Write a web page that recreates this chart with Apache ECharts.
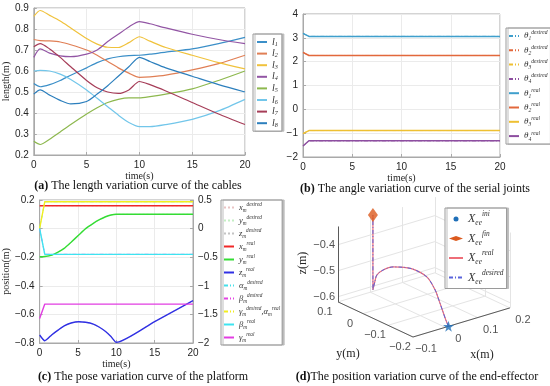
<!DOCTYPE html>
<html><head><meta charset="utf-8">
<script src="https://cdn.jsdelivr.net/npm/echarts@6/dist/echarts.min.js"></script>
<style>html,body{margin:0;padding:0;background:#fff}#c{width:550px;height:386px}</style>
</head><body><div id="c"></div>
<script>
// ---------- (a) cable lengths ----------
const timeA = [0, 0.6, 1.5, 2.5, 3.5, 5, 6, 7, 8, 9, 10, 11, 12.5, 15, 17.5, 20];
const cableL1 = [0.54, 0.525, 0.535, 0.555, 0.58, 0.615, 0.64, 0.658, 0.668, 0.673, 0.675, 0.68, 0.69, 0.705, 0.73, 0.76];
const cableL2 = [0.75, 0.745, 0.743, 0.738, 0.725, 0.70, 0.675, 0.645, 0.615, 0.59, 0.57, 0.572, 0.58, 0.605, 0.635, 0.675];
const cableL3 = [0.86, 0.888, 0.865, 0.838, 0.805, 0.755, 0.728, 0.713, 0.712, 0.735, 0.763, 0.742, 0.712, 0.675, 0.64, 0.61];
const cableL4 = [0.665, 0.705, 0.685, 0.672, 0.668, 0.68, 0.70, 0.74, 0.775, 0.81, 0.835, 0.825, 0.805, 0.775, 0.75, 0.73];
const cableL5 = [0.265, 0.25, 0.275, 0.31, 0.345, 0.395, 0.425, 0.45, 0.465, 0.472, 0.472, 0.478, 0.49, 0.515, 0.555, 0.60];
const cableL6 = [0.60, 0.603, 0.60, 0.585, 0.56, 0.51, 0.47, 0.43, 0.39, 0.355, 0.335, 0.335, 0.345, 0.37, 0.41, 0.465];
const cableL7 = [0.715, 0.73, 0.705, 0.665, 0.62, 0.555, 0.52, 0.50, 0.493, 0.51, 0.55, 0.535, 0.505, 0.45, 0.395, 0.345];
const cableL8 = [0.49, 0.51, 0.485, 0.46, 0.443, 0.455, 0.49, 0.53, 0.575, 0.62, 0.665, 0.645, 0.615, 0.575, 0.535, 0.50];
const cableNames = ['l1','l2','l3','l4','l5','l6','l7','l8'];
// ---------- (b) serial joint angles ----------
const timeB = [0, 0.6, 20];
const theta1 = [3.19, 3.06, 3.06];
const theta2 = [2.39, 2.26, 2.26];
const theta3 = [-1.02, -0.89, -0.89];
const theta4 = [-1.54, -1.32, -1.32];
// ---------- (c) platform pose ----------
const timeC = [0, 0.67, 1.6, 2.4, 3.2, 4.1, 5.1, 6, 7, 7.8, 8.6, 9.3, 10, 15, 20];
const xmPos = [0.16, 0.16, 0.16, 0.16, 0.16, 0.16, 0.16, 0.16, 0.16, 0.16, 0.16, 0.16, 0.16, 0.16, 0.16];
const ymPos = [-0.197, -0.195, -0.185, -0.165, -0.138, -0.095, -0.045, 0.0, 0.037, 0.062, 0.083, 0.095, 0.1, 0.1, 0.1];
const zmPos = [-0.744, -0.784, -0.742, -0.71, -0.68, -0.66, -0.651, -0.655, -0.668, -0.69, -0.72, -0.755, -0.795, -0.65, -0.504];
const timeCAng = [0, 0.67, 20];
const alphaAng = [0.005, 0.47, 0.47];
const betaAng = [0.0, -0.45, -0.45];
const gammaAng = [-1.57, -1.32, -1.32];
// ---------- (d) end-effector 3D path ----------
const trajX = [0.010, 0.008, 0.007, 0.004, 0.002, -0.003, -0.012, -0.020, -0.024, -0.030, -0.034, -0.035, -0.036, -0.036];
const trajY = [-0.200, -0.192, -0.182, -0.169, -0.157, -0.131, -0.086, -0.044, -0.022, 0.010, 0.030, 0.036, 0.043, 0.043];
const trajZ = [-0.620, -0.599, -0.572, -0.530, -0.497, -0.457, -0.443, -0.451, -0.459, -0.483, -0.510, -0.535, -0.572, -0.284];
const ticks3dX = [-0.1, 0, 0.1, 0.2];
const ticks3dY = [-0.2, -0.1, 0, 0.1];
const ticks3dZ = [-0.6, -0.5, -0.4];
const lim3dX = [-0.1, 0.2];
const lim3dY = [-0.2, 0.1];
const lim3dZ = [-0.62, -0.33];

// ---------- helpers ----------
const SERIF = '"Liberation Serif","DejaVu Serif",serif';
const SANS = '"Liberation Sans",Arial,sans-serif';
const minus = s => String(s).replace('-', '\u2212');
const fmt1 = v => minus(Math.round(v * 10) / 10);
const pairs = (t, v) => t.map((x, i) => [x, v[i]]);

// oblique projection of the 3D axes box (view like MATLAB default)
const ORI = [413, 337], EX = [323, -97], EY = [-250, -117], EZ = [0, -260];
function proj(x, y, z) {
  const a = x - lim3dX[0], b = y - lim3dY[0], c = z - lim3dZ[0];
  return [ORI[0] + a * EX[0] + b * EY[0] + c * EZ[0], ORI[1] + a * EX[1] + b * EY[1] + c * EZ[1]];
}

const AX = '#a9a9a9', GRIDC = '#ebebeb', TXT = '#262626';
function valAxis(extra) {
  return Object.assign({
    type: 'value',
    axisLine: { show: true, onZero: false, lineStyle: { color: AX } },
    axisTick: { show: true, inside: true, length: 3, lineStyle: { color: AX } },
    splitLine: { show: true, lineStyle: { color: GRIDC } },
    axisLabel: { color: TXT, fontFamily: SANS, fontSize: 10, margin: 5, formatter: fmt1 },
    nameTextStyle: { fontFamily: SERIF, fontSize: 10, color: TXT }
  }, extra);
}

const grids = [
  { left: 30, top: 8, width: 215, height: 147, show: true, borderColor: AX, borderWidth: 1 },
  { left: 303, top: 14, width: 197, height: 143, show: true, borderColor: AX, borderWidth: 1 },
  { left: 32, top: 200, width: 161, height: 143, show: true, borderColor: AX, borderWidth: 1 },
  { left: 270, top: 190, width: 280, height: 196, show: false }
];

const xAxes = [
  valAxis({ gridIndex: 0, min: 0, max: 20, interval: 5, name: 'time(s)', nameLocation: 'middle', nameGap: 14 }),
  valAxis({ gridIndex: 1, min: 0, max: 20, interval: 5, name: 'time(s)', nameLocation: 'middle', nameGap: 13 }),
  valAxis({ gridIndex: 2, min: 0, max: 20, interval: 5, name: 'time(s)', nameLocation: 'middle', nameGap: 14 }),
  { type: 'value', gridIndex: 3, min: 270, max: 550, show: false }
];
const yAxes = [
  valAxis({ gridIndex: 0, min: 0.2, max: 0.9, interval: 0.1, name: 'length(m)', nameLocation: 'middle', nameGap: 21, nameRotate: 90,
    axisLabel: { color: TXT, fontFamily: SANS, fontSize: 10, margin: 5, formatter: v => (Math.round(v * 10) / 10).toFixed(1) } }),
  valAxis({ gridIndex: 1, min: -2, max: 4, interval: 1, name: 'angle(rad)', nameLocation: 'middle', nameGap: 10, nameRotate: 90 }),
  valAxis({ gridIndex: 2, min: -0.8, max: 0.2, interval: 0.2, name: 'position(m)', nameLocation: 'middle', nameGap: 22, nameRotate: 90 }),
  valAxis({ gridIndex: 2, position: 'right', min: -2, max: 0.5, interval: 0.5, name: 'angle(rad)', nameLocation: 'middle', nameGap: 22, nameRotate: 90,
    splitLine: { show: false } }),
  { type: 'value', gridIndex: 3, min: 190, max: 386, inverse: true, show: false }
];

const series = [];
// (a)
const cableColors = ['#3b8fc8', '#e07f55', '#f0c23c', '#9255a4', '#8db84e', '#72c6ea', '#a63d58', '#2c7fbd'];
[cableL1, cableL2, cableL3, cableL4, cableL5, cableL6, cableL7, cableL8].forEach((arr, i) => {
  series.push({ name: cableNames[i], type: 'line', xAxisIndex: 0, yAxisIndex: 0, data: pairs(timeA, arr),
    symbol: 'none', smooth: 0.25, lineStyle: { width: 1.2, color: cableColors[i] }, itemStyle: { color: cableColors[i] } });
});
// (b)
const thetaColors = ['#3f9fcc', '#e2683c', '#eec032', '#8d4ea0'];
const thetas = [theta1, theta2, theta3, theta4];
const thetaDesNames = ['t1d', 't2d', 't3d', 't4d'];
const thetaRealNames = ['t1r', 't2r', 't3r', 't4r'];
thetas.forEach((arr, i) => {
  series.push({ name: thetaRealNames[i], type: 'line', xAxisIndex: 1, yAxisIndex: 1, data: pairs(timeB, arr),
    symbol: 'none', lineStyle: { width: 1.5, color: thetaColors[i] }, itemStyle: { color: thetaColors[i] }, z: 2 });
});
thetas.forEach((arr, i) => {
  series.push({ name: thetaDesNames[i], type: 'line', xAxisIndex: 1, yAxisIndex: 1, data: pairs(timeB, arr),
    symbol: 'none', lineStyle: { width: 1, color: thetaColors[i], type: [4, 2, 1, 2] }, itemStyle: { color: thetaColors[i] }, z: 3 });
});
// (c)
function cLine(name, t, v, yIdx, color, type, width, z) {
  series.push({ name, type: 'line', xAxisIndex: 2, yAxisIndex: yIdx, data: pairs(t, v), symbol: 'none', smooth: yIdx === 2 ? 0.2 : false,
    lineStyle: { width, color, type }, itemStyle: { color }, z });
}
cLine('xmd', timeC, xmPos, 2, '#e9c4c4', [2, 2], 1, 2);
cLine('ymd', timeC, ymPos, 2, '#c4efc4', [2, 2], 1, 2);
cLine('zmd', timeC, zmPos, 2, '#c4c4c4', [2, 2], 1, 2);
cLine('amd', timeCAng, alphaAng, 3, '#45e0ea', [4, 2, 1, 2], 1, 2);
cLine('bmd', timeCAng, betaAng, 3, '#e444e4', [4, 2, 1, 2], 1, 2);
cLine('xmr', timeC, xmPos, 2, '#f02828', 'solid', 1.4, 5);
cLine('ymr', timeC, ymPos, 2, '#34dc34', 'solid', 1.4, 5);
cLine('zmr', timeC, zmPos, 2, '#3030e4', 'solid', 1.4, 5);
cLine('gmd', timeCAng, alphaAng, 3, '#f2ee1e', 'solid', 1.4, 5);
cLine('bmr', timeCAng, betaAng, 3, '#3ee4f0', 'solid', 1.4, 5);
cLine('gmr', timeCAng, gammaAng, 3, '#e23ee2', 'solid', 1.4, 5);

// (d) 3D box
const seg = [];
const [x0, x1] = lim3dX, [y0, y1] = lim3dY, [z0, z1] = lim3dZ;
ticks3dX.forEach(x => { seg.push([proj(x, y0, z0), proj(x, y1, z0)]); seg.push([proj(x, y1, z0), proj(x, y1, z1)]); });
ticks3dY.forEach(y => { seg.push([proj(x0, y, z0), proj(x1, y, z0)]); seg.push([proj(x1, y, z0), proj(x1, y, z1)]); });
ticks3dZ.forEach(z => { seg.push([proj(x0, y1, z), proj(x1, y1, z)]); seg.push([proj(x1, y0, z), proj(x1, y1, z)]); });
series.push({ type: 'lines', coordinateSystem: 'cartesian2d', xAxisIndex: 3, yAxisIndex: 4, silent: true, z: 1,
  data: seg.map(s => ({ coords: s })), lineStyle: { color: '#e4e4e4', width: 1, opacity: 1, curveness: 0 } });
const axSeg = [[proj(x0, y0, z0), proj(x1, y0, z0)], [proj(x0, y0, z0), proj(x0, y1, z0)], [proj(x0, y1, z0), proj(x0, y1, z1)]];
series.push({ type: 'lines', coordinateSystem: 'cartesian2d', xAxisIndex: 3, yAxisIndex: 4, silent: true, z: 2,
  data: axSeg.map(s => ({ coords: s })), lineStyle: { color: '#5a5a5a', width: 1, opacity: 1, curveness: 0 } });
function tickSeries(pts, labels, offset, pos) {
  series.push({ type: 'scatter', xAxisIndex: 3, yAxisIndex: 4, silent: true, symbolSize: 0,
    data: pts.map((p, i) => ({ value: p, name: labels[i] })),
    label: { show: true, formatter: '{b}', position: pos, offset, distance: 3, color: TXT, fontFamily: SANS, fontSize: 11 } });
}
tickSeries(ticks3dX.map(x => proj(x, y0, z0)), ticks3dX.map(minus), [13, 12], 'inside');
tickSeries(ticks3dY.map(y => proj(x0, y, z0)), ticks3dY.map(minus), [-13, 10], 'inside');
tickSeries(ticks3dZ.map(z => proj(x0, y1, z)), ticks3dZ.map(minus), [0, 0], 'left');
const traj = trajX.map((x, i) => proj(x, trajY[i], trajZ[i]));
series.push({ name: 'real', type: 'line', xAxisIndex: 3, yAxisIndex: 4, data: traj, symbol: 'none', smooth: 0.3,
  lineStyle: { color: '#ee6e78', width: 1.2 }, itemStyle: { color: '#ee6e78' }, z: 3 });
series.push({ name: 'desired', type: 'line', xAxisIndex: 3, yAxisIndex: 4, data: traj, symbol: 'none', smooth: 0.3,
  lineStyle: { color: '#5a64dc', width: 1, type: [4, 2, 1, 2] }, itemStyle: { color: '#5a64dc' }, z: 4 });
const STAR = 'path://M50,0 L61,35 L98,35 L68,57 L79,91 L50,70 L21,91 L32,57 L2,35 L39,35 Z';
series.push({ name: 'ini', type: 'scatter', xAxisIndex: 3, yAxisIndex: 4, data: [traj[0]], symbol: STAR, symbolSize: 11,
  itemStyle: { color: '#1f6fb8' }, z: 6 });
series.push({ name: 'fin', type: 'scatter', xAxisIndex: 3, yAxisIndex: 4, data: [traj[traj.length - 1]], symbol: 'diamond', symbolSize: [10, 14],
  itemStyle: { color: '#dc5a1e' }, z: 6 });

// ---------- legends ----------
const legBase = { orient: 'vertical', backgroundColor: '#fff', borderColor: '#9a9a9a', borderWidth: 1, borderRadius: 0,
  shadowColor: '#bdbdbd', shadowOffsetX: 2, shadowOffsetY: 0, shadowBlur: 0, selectedMode: false,
  itemStyle: { opacity: 0 } };
const supSub = (fs) => ({
  b: { fontFamily: SERIF, fontStyle: 'italic', fontSize: fs, color: '#333' },
  sub: { fontFamily: SERIF, fontStyle: 'italic', fontSize: fs * 0.62, color: '#333', verticalAlign: 'bottom' },
  sup: { fontFamily: SERIF, fontStyle: 'italic', fontSize: fs * 0.62, color: '#333', verticalAlign: 'top' }
});
const legendA = Object.assign({}, legBase, { left: 253, top: 34, padding: [3, 4, 3, 3], itemWidth: 10, itemHeight: 6, itemGap: 1.6,
  data: cableNames, formatter: n => '{b|l}{sub|' + n.slice(1) + '}',
  textStyle: { lineHeight: 10, rich: supSub(10) } });
const thetaLab = { t1d: [1, 'desired'], t2d: [2, 'desired'], t3d: [3, 'desired'], t4d: [4, 'desired'], t1r: [1, 'real'], t2r: [2, 'real'], t3r: [3, 'real'], t4r: [4, 'real'] };
const legendB = Object.assign({}, legBase, { left: 506, top: 28, padding: [2, 3, 2, 2], itemWidth: 10, itemHeight: 6, itemGap: 2.3,
  data: thetaDesNames.concat(thetaRealNames), formatter: n => '{b|θ}{sub|' + thetaLab[n][0] + '}{sup|' + thetaLab[n][1] + '}',
  textStyle: { lineHeight: 12, rich: supSub(9) } });
const cLab = { xmd: '{b|x}{sub|m}{sup|desired}', ymd: '{b|y}{sub|m}{sup|desired}', zmd: '{b|z}{sub|m}{sup|desired}',
  xmr: '{b|x}{sub|m}{sup|real}', ymr: '{b|y}{sub|m}{sup|real}', zmr: '{b|z}{sub|m}{sup|real}',
  amd: '{b|α}{sub|m}{sup|desired}', bmd: '{b|β}{sub|m}{sup|desired}', gmd: '{b|γ}{sub|m}{sup|desired}{b|,α}{sub|m}{sup|real}',
  bmr: '{b|β}{sub|m}{sup|real}', gmr: '{b|γ}{sub|m}{sup|real}' };
const cOrder = ['xmd', 'ymd', 'zmd', 'xmr', 'ymr', 'zmr', 'amd', 'bmd', 'gmd', 'bmr', 'gmr'];
const legendC = Object.assign({}, legBase, { left: 221, top: 200, padding: [2, 2, 2, 2], itemWidth: 10, itemHeight: 6, itemGap: 2,
  data: cOrder.map(n => n === 'gmd' ? { name: n, lineStyle: { type: [4, 2, 1, 2] } } : n), formatter: n => cLab[n],
  textStyle: { lineHeight: 11, rich: supSub(8.5) } });
const dLab = { ini: '{b|X}{sub|ee}{sup|ini}', fin: '{b|X}{sub|ee}{sup|fin}', real: '{b|X}{sub|ee}{sup|real}', desired: '{b|X}{sub|ee}{sup|desired}' };
const legendD = Object.assign({}, legBase, { left: 445, top: 208, padding: [3, 3, 3, 3], itemWidth: 14, itemHeight: 5, itemGap: 3.5,
  data: [{ name: 'ini', icon: 'circle', itemStyle: { opacity: 1 } }, { name: 'fin', icon: 'diamond', itemStyle: { opacity: 1 } }, 'real', 'desired'],
  formatter: n => dLab[n],
  textStyle: { lineHeight: 16, rich: supSub(12) } });

// ---------- titles & 3D axis names ----------
function title(x, y, tag, text) {
  return { type: 'text', x, y, style: { text: '{t|' + tag + '}{n|' + text + '}', align: 'center', verticalAlign: 'middle',
    rich: { t: { fontFamily: SERIF, fontWeight: 'bold', fontSize: 12, fill: '#111' }, n: { fontFamily: SERIF, fontSize: 12, fill: '#111' } } } };
}
function axName(x, y, text, rot) {
  return { type: 'text', x, y, rotation: rot || 0, style: { text, align: 'center', verticalAlign: 'middle', fontFamily: SERIF, fontSize: 12, fill: TXT } };
}
const graphics = [
  title(138, 186, '(a)', ' The length variation curve of the cables'),
  title(415, 189, '(b)', ' The angle variation curve of the serial joints'),
  title(143, 377, '(c)', ' The pose variation curve of the platform'),
  title(417, 377, '(d)', 'The position variation curve of the end-effector'),
  axName(303, 263, 'z(m)', Math.PI / 2),
  axName(348, 354, 'y(m)'),
  axName(482, 355, 'x(m)')
];

const chart = echarts.init(document.getElementById('c'));
chart.setOption({
  animation: false,
  backgroundColor: '#fff',
  grid: grids, xAxis: xAxes, yAxis: yAxes,
  legend: [legendA, legendB, legendC, legendD],
  series, graphic: graphics
});
</script></body></html>
